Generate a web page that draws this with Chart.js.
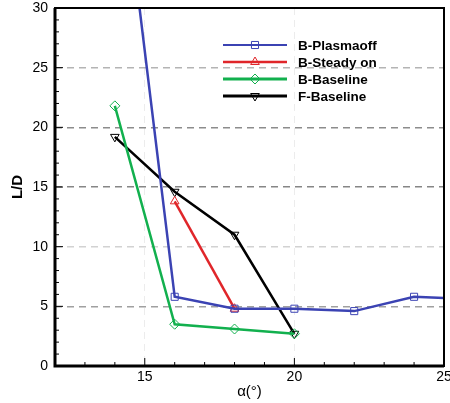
<!DOCTYPE html>
<html>
<head>
<meta charset="utf-8">
<script src="https://cdn.jsdelivr.net/npm/chart.js@4/dist/chart.umd.min.js"></script>
<style>
  html, body { margin: 0; padding: 0; background: #fff; }
  #wrap { position: relative; width: 450px; height: 403px; }
</style>
</head>
<body>
<div id="wrap"><canvas id="chart"></canvas></div>
<script>
// angle of attack (deg) and L/D for each series
const plasmaoffAlpha = [14, 16, 18, 20, 22, 24, 26];
const plasmaoffLD = [47, 5.8, 4.8, 4.8, 4.6, 5.8, 5.6];
const steadyAlpha = [16, 18];
const steadyLD = [13.8, 4.8];
const bBaselineAlpha = [14, 16, 18, 20];
const bBaselineLD = [21.8, 3.5, 3.1, 2.7];
const fBaselineAlpha = [14, 16, 18, 20];
const fBaselineLD = [19.2, 14.6, 11.0, 2.7];

const xTicks = [15, 20, 25];
const yTicks = [0, 5, 10, 15, 20, 25, 30];

const seriesNames = ['B-Plasmaoff', 'B-Steady on', 'B-Baseline', 'F-Baseline'];
const colors = ['#3b43b3', '#e0262a', '#12b04e', '#000000'];
const markers = ['rect', 'triangle', 'rectRot', 'triangle'];
const markerRot = [0, 0, 0, 180];

const toPoints = (xs, ys) => xs.map((x, i) => ({ x, y: ys[i] }));

function makeSet(i, xs, ys) {
  return {
    label: seriesNames[i],
    data: toPoints(xs, ys),
    borderColor: colors[i],
    borderWidth: 2.5,
    pointStyle: markers[i],
    pointRotation: markerRot[i],
    pointRadius: 5,
    pointBorderWidth: 1,
    pointBorderColor: colors[i],
    pointBackgroundColor: 'rgba(0,0,0,0)',
    tension: 0,
  };
}

// inward ticks, frame and legend
const framePlugin = {
  id: 'frame',
  afterDraw(chart) {
    const { ctx, chartArea: a, scales: { x, y } } = chart;
    ctx.save();
    ctx.strokeStyle = '#000';
    ctx.lineWidth = 1;
    for (let v = 13; v < 25; v++) {
      const px = x.getPixelForValue(v);
      const len = v % 5 === 0 ? 8 : 4;
      ctx.beginPath();
      ctx.moveTo(px, a.bottom);
      ctx.lineTo(px, a.bottom - len);
      ctx.stroke();
    }
    for (let v = 1; v < 30; v++) {
      const py = y.getPixelForValue(v);
      const len = v % 5 === 0 ? 8 : 4;
      ctx.beginPath();
      ctx.moveTo(a.left, py);
      ctx.lineTo(a.left + len, py);
      ctx.stroke();
    }
    ctx.lineWidth = 2;
    ctx.strokeRect(a.left, a.top, a.right - a.left, a.bottom - a.top);
    ctx.lineWidth = 3;
    ctx.beginPath();
    ctx.moveTo(a.left, a.top);
    ctx.lineTo(a.left, a.bottom);
    ctx.lineTo(a.right, a.bottom);
    ctx.stroke();

    // legend
    const legendWidths = [2, 2.5, 3, 3];
    ctx.font = 'bold 13.5px "Liberation Sans", Arial, sans-serif';
    ctx.textBaseline = 'middle';
    seriesNames.forEach((name, i) => {
      const ly = 45 + i * 17;
      ctx.strokeStyle = colors[i];
      ctx.lineWidth = legendWidths[i];
      ctx.beginPath();
      ctx.moveTo(223, ly);
      ctx.lineTo(287, ly);
      ctx.stroke();
      ctx.lineWidth = 1;
      ctx.fillStyle = 'rgba(0,0,0,0)';
      Chart.helpers.drawPoint(ctx, {
        pointStyle: markers[i], rotation: markerRot[i], radius: 5, borderWidth: 1
      }, 255, ly);
      ctx.fillStyle = '#000';
      ctx.fillText(name, 298, ly + 1);
    });
    ctx.restore();
  }
};

const gridColorsY = { 5: '#a0a0a0', 10: '#d2d2d2', 15: '#868686', 20: '#8c8c8c', 25: '#b4b4b4' };

new Chart(document.getElementById('chart'), {
  type: 'line',
  data: {
    datasets: [
      makeSet(0, plasmaoffAlpha, plasmaoffLD),
      makeSet(1, steadyAlpha, steadyLD),
      makeSet(2, bBaselineAlpha, bBaselineLD),
      makeSet(3, fBaselineAlpha, fBaselineLD),
    ],
  },
  options: {
    responsive: true,
    maintainAspectRatio: false,
    animation: false,
    layout: { padding: { top: 8, right: 5, bottom: 0, left: 0 } },
    plugins: { legend: { display: false }, tooltip: { enabled: false } },
    scales: {
      x: {
        type: 'linear',
        min: 12,
        max: 25,
        afterBuildTicks: (s) => { s.ticks = xTicks.map((v) => ({ value: v })); },
        afterFit: (s) => { s.height = 37; s.paddingLeft = 0; s.paddingRight = 0; },
        ticks: {
          padding: 3,
          color: '#000',
          font: { family: '"Liberation Sans", Arial, sans-serif', size: 14 },
          maxRotation: 0,
        },
        grid: {
          drawTicks: false,
          lineWidth: 1,
          color: (c) => (c.tick && c.tick.value < 25 ? '#ececec' : 'rgba(0,0,0,0)'),
        },
        border: { display: false, dash: [7, 5] },
        title: {
          display: true,
          text: 'α(°)',
          color: '#000',
          font: { family: '"Liberation Sans", Arial, sans-serif', size: 15 },
          padding: { top: 0, bottom: 2 },
        },
      },
      y: {
        min: 0,
        max: 30,
        afterBuildTicks: (s) => { s.ticks = yTicks.map((v) => ({ value: v })); },
        afterFit: (s) => { s.width = 55; s.paddingTop = 0; s.paddingBottom = 0; },
        ticks: {
          padding: 7,
          color: '#000',
          font: { family: '"Liberation Sans", Arial, sans-serif', size: 14 },
        },
        grid: {
          drawTicks: false,
          lineWidth: 1.5,
          color: (c) => (c.tick && gridColorsY[c.tick.value]) || 'rgba(0,0,0,0)',
        },
        border: { display: false, dash: [7, 5] },
        title: {
          display: true,
          text: 'L/D',
          color: '#000',
          font: { family: '"Liberation Sans", Arial, sans-serif', size: 15, weight: 'bold' },
          padding: { top: 9, bottom: 0 },
        },
      },
    },
  },
  plugins: [framePlugin],
});
</script>
</body>
</html>
